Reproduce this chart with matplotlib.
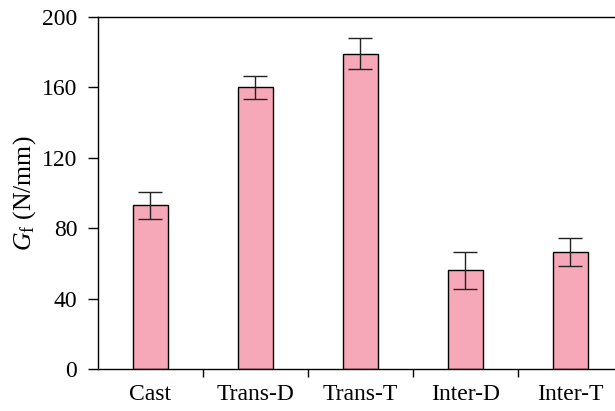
import matplotlib
matplotlib.use("Agg")
import matplotlib.pyplot as plt

# fracture energy per specimen group
groups = ["Cast", "Trans-D", "Trans-T", "Inter-D", "Inter-T"]
gf_mean = [93.0, 160.0, 179.0, 56.0, 66.5]
gf_err = [7.6, 6.5, 8.8, 10.3, 8.2]

plt.rcParams["font.family"] = "Liberation Serif"
plt.rcParams["mathtext.fontset"] = "custom"
plt.rcParams["mathtext.rm"] = "Liberation Serif"
plt.rcParams["mathtext.it"] = "Liberation Serif:italic"

fig = plt.figure(figsize=(6.15, 4.11), dpi=100)
ax = fig.add_axes([0.1593, 0.1022, 0.8537, 0.8564])

x = list(range(len(groups)))
ax.bar(x, gf_mean, width=0.33, color="#F7A8B8", edgecolor="black", linewidth=1.0,
       yerr=gf_err, capsize=8.5, error_kw={"elinewidth": 1.0, "capthick": 1.0, "ecolor": "#222222"})

ax.set_xlim(-0.5, len(groups) - 0.5)
ax.set_ylim(0, 200)
ax.set_yticks([0, 40, 80, 120, 160, 200])

# category names centred under bars, tick marks between bars
ax.set_xticks(x)
ax.set_xticklabels(groups, fontsize=17)
ax.tick_params(axis="x", which="major", length=0, pad=11)
ax.set_xticks([i + 0.5 for i in x[:-1]], minor=True)
ax.tick_params(axis="x", which="minor", length=6, width=1.0, direction="out")
ax.tick_params(axis="y", length=7, width=1.0, direction="out", labelsize=17, pad=8)

for side in ["left", "bottom", "top", "right"]:
    ax.spines[side].set_linewidth(1.0)

ax.set_ylabel(r"$G_\mathrm{f}$ (N/mm)", fontsize=18.5, labelpad=3)

fig.savefig("out.png", dpi=100)
